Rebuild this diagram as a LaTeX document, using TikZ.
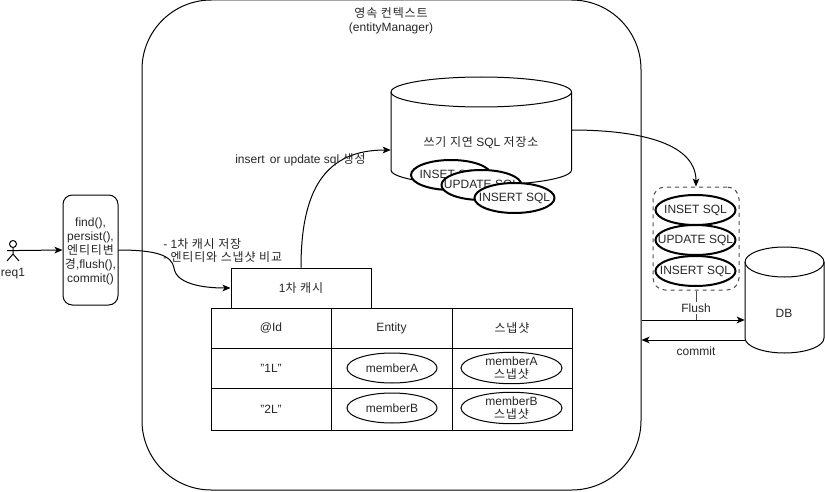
\documentclass[tikz,border=0pt]{standalone}
\usepackage{fontspec}
\setmainfont{Liberation Sans}
\newfontfamily\krfont[LetterSpace=7]{Noto Sans CJK KR}
\newcommand{\K}[1]{{\krfont #1}}
\newcommand{\Z}[1]{\makebox[0pt][c]{#1}}
\usetikzlibrary{arrows.meta,shapes.geometric}
\tikzset{
  x=0.75pt,y=-0.75pt,
  every node/.style={font=\fontsize{9}{10.5}\selectfont,text=black!85,inner sep=0pt,align=center},
  line/.style={draw=black,line width=0.75pt},
  arr/.style={line,-{Stealth[length=6pt,width=5pt,inset=1.5pt]}},
  sqlpill/.style={ellipse,draw=black,line width=1.5pt,fill=white,minimum width=60pt,minimum height=22.5pt},
  memb/.style={ellipse,line,fill=white,minimum height=22.5pt},
  cellbox/.style={rectangle,line,minimum width=90pt,minimum height=30pt},
}
\begin{document}
\begin{tikzpicture}
\useasboundingbox (0,0) rectangle (825,492);
% persistence context
\node[rectangle,rounded corners=52pt,line,minimum width=374.25pt,minimum height=367.5pt] (ctx) at (391.5,245) {};
\node (ctxlabel) at (391,21) {\K{영속 컨텍스트}\\(entityManager)};
% write-behind store
\draw[line,fill=white] (391,92) arc[start angle=180,end angle=360,x radius=90.25,y radius=15]
  -- (571.5,170) arc[start angle=0,end angle=180,x radius=90.25,y radius=15] -- cycle;
\draw[line] (391,92) arc[start angle=180,end angle=0,x radius=90.25,y radius=15];
\node[rectangle,minimum width=135.4pt,minimum height=81pt] (store) at (481.25,131) {};
\node (storelabel) at (481,143) {\K{쓰기 지연} SQL \K{저장소}};
\node[sqlpill] (s1) at (451,175) {\Z{INSET SQL}};
\node[sqlpill] (s2) at (481.5,185) {\Z{UPDATE SQL}};
\node[sqlpill] (s3) at (514.5,198) {\Z{INSERT SQL}};
% flushed group
\node[rectangle,rounded corners=9pt,draw=black!70,dashed,line width=0.75pt,minimum width=64.5pt,minimum height=77.25pt] (grp) at (696,238.5) {};
\node[sqlpill] (f1) at (695.5,210) {\Z{INSET SQL}};
\node[sqlpill] (f2) at (695.5,240) {\Z{UPDATE SQL}};
\node[sqlpill] (f3) at (695.5,271) {\Z{INSERT SQL}};
% db
\draw[line,fill=white] (745,262) arc[start angle=180,end angle=360,x radius=39.5,y radius=15]
  -- (824,338) arc[start angle=0,end angle=180,x radius=39.5,y radius=15] -- cycle;
\draw[line] (745,262) arc[start angle=180,end angle=0,x radius=39.5,y radius=15];
\node[rectangle,minimum width=59.25pt,minimum height=79.5pt] (db) at (784.5,300) {};
\node (dblabel) at (784,313) {DB};
% actor
\draw[line] (13,244) circle[radius=3.5];
\draw[line] (13,247.5) -- (13,254) (7,250.5) -- (19,250.5) (13,254) -- (7,261) (13,254) -- (19,261);
\coordinate (acthand) at (19,250.5);
\node (req) at (13,274) {req1};
% call box
\node[rectangle,rounded corners=7pt,line,minimum width=41.25pt,minimum height=82.5pt] (calls) at (90.5,250) {};
\node (callstxt) at (90.5,251) {find(),\\persist(),\\\K{엔티티변}\\\K{경},flush(),\\commit()};
% first level cache
\node[rectangle,line,minimum width=105pt,minimum height=30pt] (cache) at (301,288) {1\K{차 캐시}};
\node[cellbox] (c11) at (271,328) {@Id};
\node[cellbox,minimum width=90.75pt] (c12) at (391.5,328) {Entity};
\node[cellbox] (c13) at (512,328) {\K{스냅샷}};
\node[cellbox] (c21) at (271,368) {"1L"};
\node[cellbox,minimum width=90.75pt] (c22) at (391.5,368) {};
\node[cellbox] (c23) at (512,368) {};
\node[cellbox,minimum height=31.5pt] (c31) at (271,409) {"2L"};
\node[cellbox,minimum width=90.75pt,minimum height=31.5pt] (c32) at (391.5,409) {};
\node[cellbox,minimum height=31.5pt] (c33) at (512,409) {};
\node[memb,minimum width=67.5pt] (ma) at (392,368) {\Z{memberA}};
\node[memb,minimum width=75.75pt] (sa) at (511.5,368) {\Z{memberA}\\[-1pt]\Z{\K{스냅샷}}};
\node[memb,minimum width=67.5pt] (mb) at (392,408) {\Z{memberB}};
\node[memb,minimum width=75.75pt] (sb) at (511.5,408) {\Z{memberB}\\[-1pt]\Z{\K{스냅샷}}};
% connectors
\draw[arr] (acthand) -- (calls.west);
\draw[arr] (calls.east) .. controls (155,250) and (172,255) .. (174,268)
   .. controls (176,283) and (200,288) .. (cache.west);
\draw[arr] (cache.north) .. controls (301,190) and (325,150) .. (store.west |- 0,150);
\draw[arr] (571.5,130) .. controls (630,130) and (696,140) .. (grp.north);
\coordinate (ctxr1) at (ctx.east |- 0,320);
\coordinate (ctxr2) at (ctx.east |- 0,340);
\draw[draw=black!70,line width=0.75pt] (grp.south) -- (696,320);
\draw[arr] (ctxr1) -- (db.west |- ctxr1);
\draw[arr] (db.west |- ctxr2) -- (ctxr2);
\node[fill=white,inner sep=1pt] (flushl) at (696,308) {Flush};
\node (commitl) at (696,351) {commit};
\node[anchor=west] (lab1) at (163,244) {- 1\K{차 캐시 저장}};
\node[anchor=west] (lab2) at (163,257) {- \K{엔티티와 스냅샷 비교}};
\node[anchor=west] (lab3) at (235,160) {insert\, or update sql \K{생성}};
\end{tikzpicture}
\end{document}
